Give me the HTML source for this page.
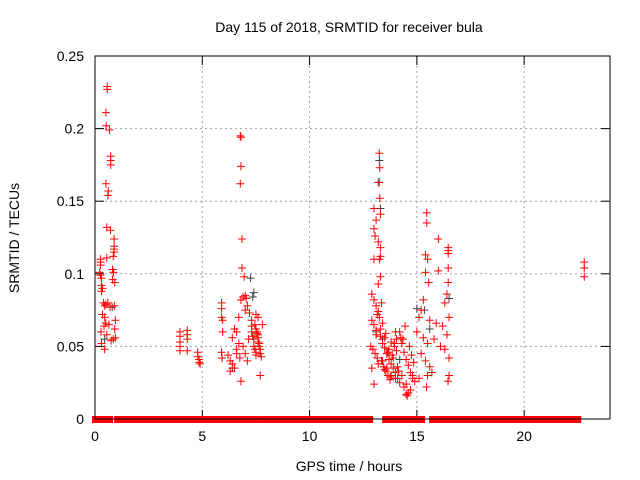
<!DOCTYPE html>
<html><head><meta charset="utf-8"><style>
body{margin:0;background:#fff}
svg{display:block;font-family:"Liberation Sans",sans-serif}
</style></head><body>
<svg id="chart" width="640" height="480">
<rect width="640" height="480" fill="#fff"/>
<text x="349" y="32" text-anchor="middle" font-size="14">Day 115 of 2018, SRMTID for receiver bula</text>
<text x="349" y="471" text-anchor="middle" font-size="14">GPS time / hours</text>
<text transform="translate(19,238) rotate(-90)" text-anchor="middle" font-size="14">SRMTID / TECUs</text>
<g id="grid"></g><g id="ticks"></g><g id="zeros"></g><g id="pts"></g>
<rect x="95" y="56" width="515" height="363" fill="none" stroke="#000"/>
</svg>
<script>
const xTicks=[0,5,10,15,20];
const yTicks=[0,0.05,0.1,0.15,0.2,0.25];
const yTickLabels=["0","0.05","0.1","0.15","0.2","0.25"];
const zeroStart=[0,0.23,0.51,1.03,4.43,4.85,5.97,6.53,6.81,7.23,7.83,12.63,13.52,13.71,13.85,14.08,14.41,14.55,14.69,14.83,15.01,15.71,16.46,16.74,18.18,18.46,18.88,19.25];
const zeroEnd=[0.14,0.28,0.70,4.29,4.80,5.78,6.39,6.57,7.00,7.55,12.45,12.82,13.61,13.75,13.94,14.22,14.45,14.59,14.78,14.92,15.24,16.32,16.69,18.14,18.37,18.83,19.11,22.52];
const redHours=[0.57,0.57,0.51,0.52,0.67,0.73,0.73,0.73,0.51,0.62,0.60,0.55,0.72,0.89,0.89,0.89,0.89,0.85,0.55,0.26,0.26,0.26,0.22,0.26,0.30,0.82,0.86,0.82,0.92,0.30,0.35,0.30,0.40,0.50,0.45,0.60,0.70,0.90,0.35,0.45,0.50,0.42,0.65,0.95,0.92,0.28,0.55,0.85,0.30,0.45,0.75,0.95,
3.96,3.96,3.96,3.96,3.96,4.3,4.3,4.3,4.3,4.79,4.79,4.85,4.85,4.9,
5.9,5.9,5.9,5.95,5.95,5.9,5.92,6.2,6.3,6.4,6.5,6.6,6.7,6.6,6.3,6.4,6.5,6.7,6.8,6.9,6.77,6.80,6.80,6.77,6.85,6.85,6.95,7.0,7.05,7.1,7.2,7.3,7.3,7.3,7.35,7.4,7.4,7.45,7.5,7.5,7.5,7.55,7.6,7.6,7.6,7.65,7.7,7.7,7.75,7.8,7.6,7.5,7.7,7.1,7.0,6.9,6.8,7.15,7.0,6.6,6.75,7.45,7.55,7.65,
13.25,13.27,13.25,13.27,13.0,13.3,13.1,13.0,13.05,13.2,13.3,13.3,13.0,13.25,13.3,13.2,
12.9,13.0,13.1,13.2,12.9,13.0,13.1,13.3,13.4,13.5,13.6,13.7,13.8,13.9,14.0,14.1,12.95,13.05,13.15,13.35,13.45,13.55,13.65,13.75,13.85,13.95,14.05,14.2,14.3,14.4,14.5,14.6,14.7,14.8,13.1,13.3,13.5,13.7,13.9,14.1,14.3,14.5,14.7,14.9,12.9,13.2,13.4,13.6,13.8,14.0,14.2,14.4,14.6,14.8,13.0,13.6,14.5,14.55,
13.15,13.4,13.55,13.8,14.05,14.25,14.45,14.65,14.85,13.25,13.5,13.75,14.0,14.35,14.75,12.85,13.35,13.65,13.95,14.15,
15.46,15.46,16.0,16.46,16.46,16.46,15.4,15.5,15.4,16.0,16.46,15.55,16.46,15.3,16.3,15.2,15.1,15.6,15.9,16.2,16.4,15.0,15.3,15.5,15.8,16.1,16.4,15.2,15.4,15.6,15.7,16.3,16.5,15.1,15.5,16.45,15.45,16.5,16.5,
22.8,22.8,22.8];
const redValues=[0.229,0.227,0.211,0.202,0.199,0.181,0.178,0.175,0.162,0.157,0.154,0.132,0.130,0.124,0.119,0.117,0.115,0.112,0.111,0.110,0.108,0.106,0.101,0.099,0.097,0.103,0.101,0.096,0.094,0.092,0.090,0.088,0.080,0.079,0.078,0.080,0.077,0.078,0.072,0.070,0.066,0.064,0.065,0.068,0.062,0.060,0.058,0.055,0.052,0.048,0.054,0.056,
0.060,0.057,0.053,0.050,0.047,0.061,0.058,0.055,0.047,0.046,0.043,0.041,0.039,0.038,
0.080,0.076,0.070,0.068,0.060,0.046,0.042,0.044,0.040,0.038,0.035,0.048,0.052,0.045,0.033,0.056,0.062,0.070,0.082,0.084,0.195,0.194,0.174,0.162,0.124,0.104,0.098,0.085,0.083,0.078,0.073,0.068,0.064,0.060,0.057,0.055,0.050,0.048,0.046,0.044,0.062,0.059,0.056,0.053,0.058,0.050,0.048,0.045,0.043,0.065,0.070,0.072,0.030,0.040,0.045,0.050,0.026,0.055,0.075,0.060,0.042,0.065,0.060,0.052,
0.183,0.173,0.163,0.152,0.145,0.141,0.137,0.131,0.126,0.122,0.118,0.112,0.110,0.110,0.098,0.093,
0.086,0.082,0.078,0.074,0.068,0.065,0.061,0.057,0.052,0.049,0.045,0.041,0.038,0.035,0.032,0.028,0.048,0.045,0.042,0.040,0.036,0.033,0.030,0.027,0.044,0.050,0.055,0.060,0.052,0.046,0.041,0.037,0.032,0.028,0.058,0.062,0.056,0.048,0.042,0.036,0.030,0.024,0.020,0.026,0.035,0.038,0.040,0.035,0.030,0.028,0.025,0.022,0.018,0.030,0.024,0.045,0.017,0.016,
0.072,0.066,0.059,0.053,0.047,0.056,0.064,0.050,0.039,0.070,0.034,0.029,0.060,0.055,0.044,0.050,0.080,0.046,0.052,0.033,
0.142,0.135,0.124,0.118,0.116,0.114,0.113,0.110,0.101,0.102,0.104,0.094,0.094,0.082,0.080,0.075,0.070,0.068,0.066,0.064,0.086,0.060,0.056,0.052,0.055,0.050,0.058,0.045,0.040,0.036,0.032,0.048,0.042,0.028,0.030,0.026,0.022,0.070,0.030,
0.108,0.104,0.098];
const grayHours=[0.8,0.45,7.4,7.35,7.25,13.25,13.2,13.3,13.1,15.0,15.35,16.5,14.2,15.6,6.4,13.4];
const grayValues=[0.077,0.055,0.087,0.084,0.097,0.178,0.163,0.145,0.060,0.076,0.075,0.083,0.041,0.062,0.035,0.055];

const X=h=>95+h*(515/24), Y=v=>419-v*(363/0.25);
const NS="http://www.w3.org/2000/svg";
function mk(tag,attrs,parent){const e=document.createElementNS(NS,tag);for(const k in attrs)e.setAttribute(k,attrs[k]);parent.appendChild(e);return e;}
const grid=document.getElementById('grid'),ticks=document.getElementById('ticks');
xTicks.forEach(t=>{const x=X(t);
 if(t>0){const g=mk('line',{x1:x,x2:x,y1:56,y2:419,stroke:'#a0a0a0','stroke-dasharray':'2,3'},grid);
 
 }
 mk('line',{x1:x,x2:x,y1:419,y2:410,stroke:'#000'},ticks);
 mk('line',{x1:x,x2:x,y1:56,y2:65,stroke:'#000'},ticks);
 const l=mk('text',{x:x,y:441,'text-anchor':'middle','font-size':14},ticks);l.textContent=t;
 
 });
yTicks.forEach((t,i)=>{const y=Y(t);
 if(t>0&&t<0.25){const g=mk('line',{x1:95,x2:610,y1:y,y2:y,stroke:'#a0a0a0','stroke-dasharray':'2,3'},grid);
 
 }
 mk('line',{x1:95,x2:104,y1:y,y2:y,stroke:'#000'},ticks);
 mk('line',{x1:601,x2:610,y1:y,y2:y,stroke:'#000'},ticks);
 const l=mk('text',{x:84,y:y+5,'text-anchor':'end','font-size':14},ticks);l.textContent=yTickLabels[i];
 
 });
const zg=document.getElementById('zeros');
zeroStart.forEach((s,i)=>{const r=mk('rect',{x:X(s)-3,y:416,width:X(zeroEnd[i])-X(s)+6,height:7,fill:'#f00'},zg);
 
 });
const pg=document.getElementById('pts');
function plus(h,v,c,name){const x=X(h),y=Y(v);
 const p=mk('path',{d:`M${x-4} ${y}H${x+4}M${x} ${y-4}V${y+4}`,stroke:c,'stroke-width':1,fill:'none'},pg);
 
 }
grayHours.forEach((h,i)=>plus(h,grayValues[i],'#404040','gray-point'));
redHours.forEach((h,i)=>plus(h,redValues[i],'#f00','red-point'));
</script>
</body></html>
